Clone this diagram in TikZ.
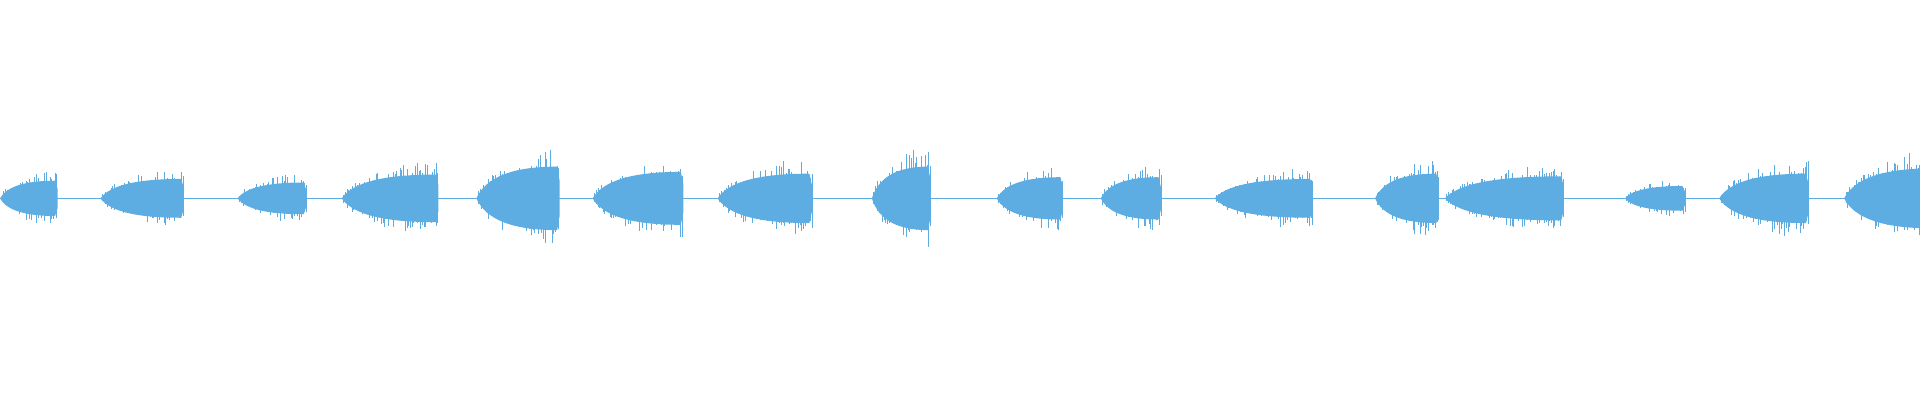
\documentclass[tikz,border=0pt]{standalone}
\definecolor{wave}{RGB}{93,173,226}
\begin{document}
\begin{tikzpicture}[x=1.2245pt,y=1.2245pt,wv/.style={wave,line width=0.5pt}]
\useasboundingbox (0,0) rectangle (1568,326.7);
\pgfmathsetseed{7}
\def\c{164.7}
\draw[wv] (0,\c) -- (1568,\c);
\foreach \a/\b/\h in {0/47/20, 82/150/22, 194/250/18, 279/358/27, 389/457/36, 484/558/30, 586/663/28, 712/760/36, 814/868/24, 899/948/24, 992/1072/22, 1123/1175/28, 1180/1277/25, 1327/1376/14, 1404/1477/28, 1506/1580/34}{
  \pgfmathsetmacro\q{\a+0.12*(\b-\a)}
  \pgfmathsetmacro\p{\a+0.45*(\b-\a)}
  \pgfmathsetmacro\m{\b-2}
  \fill[wave] (\a,\c) .. controls (\q,\c+0.5*\h) and (\p,\c+0.72*\h) .. (\m,\c+0.72*\h) -- (\b,\c+0.4*\h) -- (\b,\c-0.4*\h) -- (\m,\c-0.72*\h) .. controls (\p,\c-0.72*\h) and (\q,\c-0.5*\h) .. cycle;
  \pgfmathsetmacro\s{\a+1.4}
  \foreach \x in {\a,\s,...,\b}{
    \pgfmathsetmacro\e{min(1,sqrt(max(0,(\x-\a))/(0.7*(\b-\a))))}
    \pgfmathsetmacro\r{\h*\e*(0.6+0.5*rnd^2)}
    \pgfmathsetmacro\t{\h*\e*(0.6+0.5*rnd^2)}
    \draw[wv,line width=0.35pt] (\x,\c-\r) -- (\x,\c+\t);
  }
}
\end{tikzpicture}
\end{document}
